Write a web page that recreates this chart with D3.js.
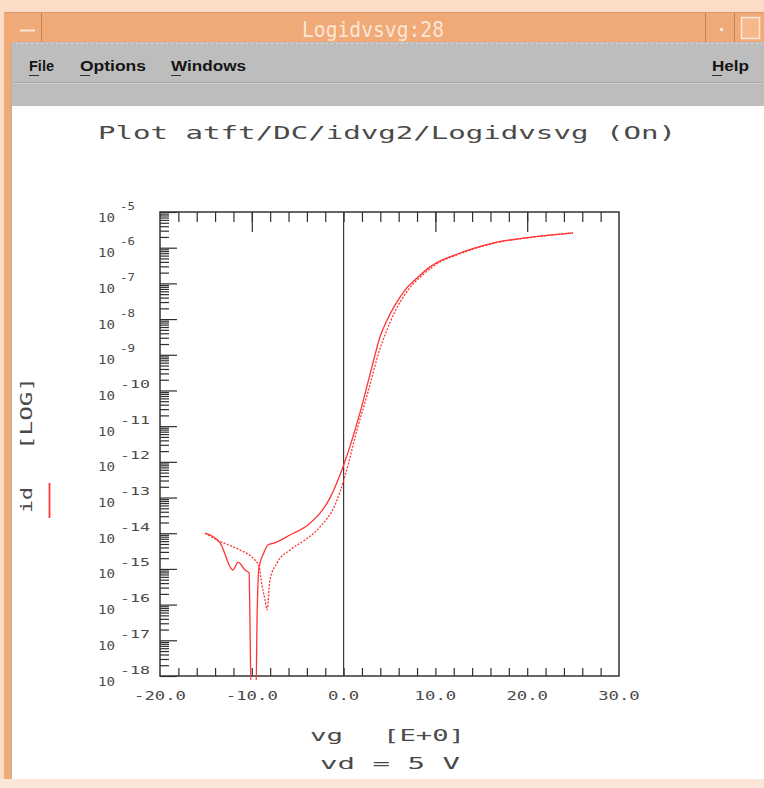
<!DOCTYPE html>
<html>
<head>
<meta charset="utf-8">
<script src="https://cdn.jsdelivr.net/npm/d3@7"></script>
<style>
  html, body { margin: 0; padding: 0; background: #ffffff; }
  svg { display: block; }
</style>
</head>
<body>
<script>
// Forward sweep (solid): gate voltage [V] and drain current [A]
const vgForward = [-15.1, -13.46, -12.05, -11.5, -10.74, -10.3, -10.2, -10.09, -9.54, -9.43, -9.22,
  -8.67, -8.24, -7.47, -5.84, -3.66, -1.48, -0.07, 1.79, 3.09, 3.97, 4.73, 5.6, 6.69, 8.0, 9.41, 12.68, 16.27, 20.63, 24.99];
const idForward = [1.0e-14, 5.4e-15, 9.3e-16, 1.55e-15, 9.3e-16, 7.7e-16, 3.7e-17, 4e-19, 4e-19, 3.7e-17, 1.07e-15,
  2.9e-15, 4.7e-15, 5.4e-15, 8.9e-15, 1.9e-14, 9.8e-14, 7.2e-13, 2.4e-11, 4.6e-10, 3.2e-9, 9.3e-9, 2.45e-8, 6.5e-8, 1.41e-7, 2.9e-7, 7.1e-7, 1.35e-6, 2.0e-6, 2.6e-6];

// Second sweep (dotted)
const vgReverse = [-15.1, -13.79, -13.25, -11.29, -9.87, -9.22, -8.89, -8.56, -8.34, -8.02, -7.25, -5.84,
  -4.2, -2.57, -0.94, 0.15, 1.46, 2.66, 3.97, 4.7, 5.5, 6.4, 7.5, 8.7, 10.07, 12.9, 16.49, 20.85, 24.99];
const idReverse = [1.0e-14, 6.5e-15, 5.6e-15, 3.4e-15, 2.0e-15, 1.2e-15, 3.5e-16, 1.35e-16, 7.1e-17, 4.9e-16, 1.48e-15, 3.4e-15,
  6.5e-15, 1.5e-14, 6.2e-14, 4.0e-13, 7.8e-12, 9.1e-11, 1.5e-9, 4.8e-9, 1.45e-8, 3.8e-8, 9.2e-8, 1.8e-7, 3.4e-7, 7.1e-7, 1.35e-6, 2.0e-6, 2.6e-6];

// Axis ticks
const xTickValues = [-20, -10, 0, 10, 20, 30];
const xTickLabels = ["-20.0", "-10.0", "0.0", "10.0", "20.0", "30.0"];
const yDecadeExponents = [-5, -6, -7, -8, -9, -10, -11, -12, -13, -14, -15, -16, -17, -18];

// Window texts
const windowTitle = "Logidvsvg:28";
const menuItems = ["File", "Options", "Windows"];
const helpItem = "Help";
const plotTitle = "Plot atft/DC/idvg2/Logidvsvg (On)";

const W = 764, H = 788;
const plotFont = "'DejaVu Sans Mono', 'Liberation Mono', monospace";
const textGray = "#4a4a4a";
const traceRed = "#ff3434";

const svg = d3.select("body").append("svg")
  .attr("width", W).attr("height", H)
  .attr("viewBox", `0 0 ${W} ${H}`);

// ---------- window frame ----------
svg.append("rect").attr("x", 0).attr("y", 0).attr("width", W).attr("height", H).attr("fill", "#fbdcc6");
svg.append("rect").attr("x", 4).attr("y", 12).attr("width", W - 4).attr("height", 30).attr("fill", "#f0aa78");
svg.append("rect").attr("x", 4).attr("y", 12).attr("width", 7).attr("height", 768).attr("fill", "#f0aa78");
svg.append("line").attr("x1", 4).attr("x2", W).attr("y1", 12.5).attr("y2", 12.5).attr("stroke", "#e09868");

// title bar separators and buttons
[41, 705, 734].forEach(xp => {
  svg.append("line").attr("x1", xp + 0.5).attr("x2", xp + 0.5).attr("y1", 13).attr("y2", 42)
    .attr("stroke", "#c88258").attr("stroke-width", 1);
});
svg.append("line").attr("x1", 20).attr("x2", 35).attr("y1", 30.5).attr("y2", 30.5)
  .attr("stroke", "#fde6d6").attr("stroke-width", 2);
svg.append("rect").attr("x", 720).attr("y", 28).attr("width", 3).attr("height", 3).attr("fill", "#fde6d6");
svg.append("rect").attr("x", 741.5).attr("y", 17.5).attr("width", 18).attr("height", 21)
  .attr("fill", "#f4b889").attr("stroke", "#fde6d6").attr("stroke-width", 1.5);

svg.append("text").attr("x", 302).attr("y", 37)
  .attr("font-family", plotFont).attr("font-size", 22)
  .attr("textLength", 142).attr("lengthAdjust", "spacingAndGlyphs")
  .attr("fill", "#fde6d6").text(windowTitle);

// menu bar
svg.append("rect").attr("x", 11).attr("y", 42).attr("width", W - 11).attr("height", 64).attr("fill", "#bdbdbd");
svg.append("line").attr("x1", 11).attr("x2", W).attr("y1", 43.5).attr("y2", 43.5)
  .attr("stroke", "#d6d6d6").attr("stroke-dasharray", "2,3");
svg.append("line").attr("x1", 11).attr("x2", W).attr("y1", 82.5).attr("y2", 82.5).attr("stroke", "#a9a9a9");
svg.append("line").attr("x1", 11).attr("x2", W).attr("y1", 83.5).attr("y2", 83.5).attr("stroke", "#cfcfcf");

const menuX = [29, 80, 171];
const menuLen = [25, 66, 75];
menuItems.forEach((m, i) => {
  svg.append("text").attr("x", menuX[i]).attr("y", 71)
    .attr("font-family", "'Liberation Sans', Arial, sans-serif").attr("font-weight", "bold").attr("font-size", 15)
    .attr("textLength", menuLen[i]).attr("lengthAdjust", "spacingAndGlyphs")
    .attr("fill", "#151515").text(m);
  svg.append("line").attr("x1", menuX[i]).attr("x2", menuX[i] + 10).attr("y1", 75.5).attr("y2", 75.5)
    .attr("stroke", "#303030").attr("stroke-width", 1);
});
svg.append("text").attr("x", 712).attr("y", 71)
  .attr("font-family", "'Liberation Sans', Arial, sans-serif").attr("font-weight", "bold").attr("font-size", 15)
  .attr("textLength", 37).attr("lengthAdjust", "spacingAndGlyphs")
  .attr("fill", "#151515").text(helpItem);
svg.append("line").attr("x1", 712).attr("x2", 722).attr("y1", 75.5).attr("y2", 75.5)
  .attr("stroke", "#303030").attr("stroke-width", 1);

// drawing area
svg.append("rect").attr("x", 12).attr("y", 106).attr("width", W - 12).attr("height", 673).attr("fill", "#ffffff");
svg.append("line").attr("x1", 11.5).attr("x2", 11.5).attr("y1", 42).attr("y2", 779).attr("stroke", "#c2ae94");
svg.append("rect").attr("x", 0).attr("y", 779).attr("width", W).attr("height", 9).attr("fill", "#fbe6d8");

// ---------- plot ----------
const x = d3.scaleLinear().domain([-20, 30]).range([160, 619]);
const y = d3.scaleLog().domain([1e-18, 1e-5]).range([676, 212]);

svg.append("text").attr("x", 98).attr("y", 138.5)
  .attr("font-family", plotFont).attr("font-size", 18)
  .attr("textLength", 578).attr("lengthAdjust", "spacingAndGlyphs")
  .attr("fill", textGray).text(plotTitle);

// left axis: log decades and minor ticks pointing inward
const minorY = [];
for (let d = -18; d < -5; d++) {
  for (let k = 2; k <= 9; k++) minorY.push(k * Math.pow(10, d));
}
const majorY = yDecadeExponents.map(e => Math.pow(10, e));

const tickStroke = "#2e2e2e";
function styleAxis(g) {
  g.select(".domain").remove();
  g.selectAll(".tick line").attr("stroke", tickStroke).attr("stroke-width", 1.2);
  g.selectAll(".tick text").remove();
}
svg.append("g").attr("transform", "translate(160,0)")
  .call(d3.axisRight(y).tickValues(minorY).tickSize(9).tickFormat(""))
  .call(styleAxis);
svg.append("g").attr("transform", "translate(160,0)")
  .call(d3.axisRight(y).tickValues(majorY).tickSize(17).tickFormat(""))
  .call(styleAxis);

// top and bottom ticks
const minorX = d3.range(-18, 30, 2);
svg.append("g").attr("transform", "translate(0,212)")
  .call(d3.axisBottom(x).tickValues(minorX).tickSize(10).tickFormat(""))
  .call(styleAxis);
svg.append("g").attr("transform", "translate(0,212)")
  .call(d3.axisBottom(x).tickValues([-10, 10, 20]).tickSize(20).tickFormat(""))
  .call(styleAxis);
svg.append("g").attr("transform", "translate(0,676)")
  .call(d3.axisTop(x).tickValues(minorX).tickSize(8).tickFormat(""))
  .call(styleAxis);

// vertical line at vg = 0
svg.append("line").attr("x1", x(0)).attr("x2", x(0)).attr("y1", y(1e-5)).attr("y2", y(1e-18))
  .attr("stroke", "#3a3a3a").attr("stroke-width", 1.2);

// frame
svg.append("rect").attr("x", x(-20)).attr("y", y(1e-5))
  .attr("width", x(30) - x(-20)).attr("height", y(1e-18) - y(1e-5))
  .attr("fill", "none").attr("stroke", "#333333").attr("stroke-width", 1.5);

// y tick labels: 10 with superscript exponent
yDecadeExponents.forEach(e => {
  const ty = y(Math.pow(10, e));
  svg.append("text").attr("x", 98).attr("y", ty + 9.5)
    .attr("font-family", plotFont).attr("font-size", 12)
    .attr("textLength", 17).attr("lengthAdjust", "spacingAndGlyphs")
    .attr("fill", textGray).text("10");
  const s = String(e);
  svg.append("text").attr("x", 120).attr("y", ty - 2.5)
    .attr("font-family", plotFont).attr("font-size", 11)
    .attr("textLength", s.length === 2 ? 15 : 30).attr("lengthAdjust", "spacingAndGlyphs")
    .attr("fill", textGray).text(s);
});

// x tick labels
xTickValues.forEach((v, i) => {
  const s = xTickLabels[i];
  svg.append("text").attr("x", x(v)).attr("y", 699.5)
    .attr("text-anchor", "middle")
    .attr("font-family", plotFont).attr("font-size", 12)
    .attr("textLength", s.length * 10.4).attr("lengthAdjust", "spacingAndGlyphs")
    .attr("fill", textGray).text(s);
});

// axis titles
svg.append("text").attr("x", 310).attr("y", 741)
  .attr("font-family", plotFont).attr("font-size", 16)
  .attr("textLength", 33).attr("lengthAdjust", "spacingAndGlyphs")
  .attr("fill", textGray).text("vg");
svg.append("text").attr("x", 383).attr("y", 741)
  .attr("font-family", plotFont).attr("font-size", 16)
  .attr("textLength", 82).attr("lengthAdjust", "spacingAndGlyphs")
  .attr("fill", textGray).text("[E+0]");
svg.append("text").attr("x", 320).attr("y", 769)
  .attr("font-family", plotFont).attr("font-size", 16)
  .attr("textLength", 140).attr("lengthAdjust", "spacingAndGlyphs")
  .attr("fill", textGray).text("vd = 5 V");

const yTitle = svg.append("g").attr("transform", "translate(32,513) rotate(-90)");
yTitle.append("text").attr("x", 0).attr("y", 0)
  .attr("font-family", plotFont).attr("font-size", 16)
  .attr("textLength", 26).attr("lengthAdjust", "spacingAndGlyphs")
  .attr("fill", textGray).text("id");
yTitle.append("text").attr("x", 63).attr("y", 0)
  .attr("font-family", plotFont).attr("font-size", 16)
  .attr("textLength", 73).attr("lengthAdjust", "spacingAndGlyphs")
  .attr("fill", textGray).text("[LOG]");

// legend swatch for id
svg.append("line").attr("x1", 49.5).attr("x2", 49.5).attr("y1", 483).attr("y2", 518)
  .attr("stroke", traceRed).attr("stroke-width", 1.8);

// ---------- traces ----------
svg.append("defs").append("clipPath").attr("id", "plotClip")
  .append("rect").attr("x", x(-20)).attr("y", y(1e-5))
  .attr("width", x(30) - x(-20)).attr("height", y(1e-18) - y(1e-5) + 4);

const line = d3.line()
  .x(d => x(d[0]))
  .y(d => y(d[1]))
  .curve(d3.curveMonotoneX);

const traces = svg.append("g").attr("clip-path", "url(#plotClip)");
traces.append("path")
  .attr("d", line(d3.zip(vgReverse, idReverse)))
  .attr("fill", "none").attr("stroke", traceRed).attr("stroke-width", 1.3)
  .attr("stroke-dasharray", "2,1.5");
traces.append("path")
  .attr("d", line(d3.zip(vgForward, idForward)))
  .attr("fill", "none").attr("stroke", traceRed).attr("stroke-width", 1.3);
</script>
</body>
</html>
